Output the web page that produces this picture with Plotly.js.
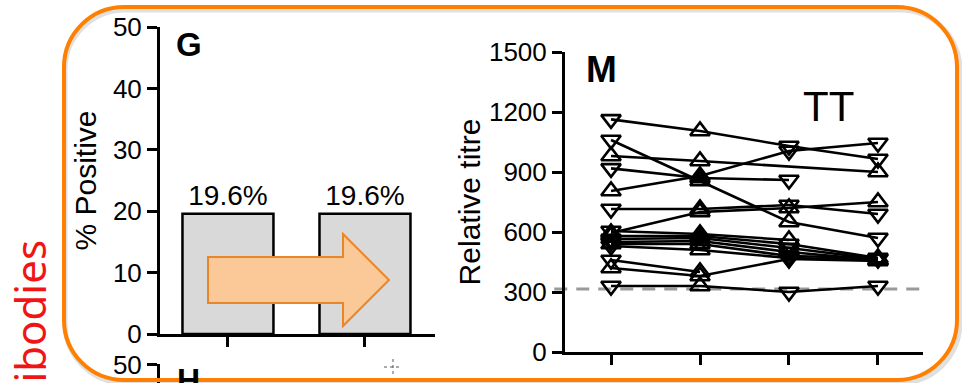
<!DOCTYPE html>
<html>
<head>
<meta charset="utf-8">
<script src="https://cdn.plot.ly/plotly-3.0.1.min.js"></script>
<style>
  html, body { margin: 0; padding: 0; background: #ffffff; }
  #chart { width: 962px; height: 383px; }
</style>
</head>
<body>
<div id="chart"></div>
<script>
// ---- Panel G: % positive before / after ----
const barGroups = [0, 1];
const percentPositive = [19.6, 19.6];
const percentLabels = ['19.6%', '19.6%'];

// ---- Panel M: relative TT titre per subject at four visits ----
const visits = [1, 2, 3, 4];
const titreS01 = [1163, 1105, 1030, 965];
const titreS02 = [1060, 855, 650, 570];
const titreS03 = [980, 955, null, 900];
const titreS04 = [918, 870, 860, null];
const titreS05 = [805, 880, 1005, 1045];
const titreS06 = [715, 715, 735, 690];
const titreS07 = [595, 700, 720, 750];
const titreS08 = [605, 590, 560, null];
const titreS09 = [580, 580, 540, 470];
const titreS10 = [565, 570, 520, 465];
const titreS11 = [550, 555, 500, 460];
const titreS12 = [540, 540, 480, 470];
const titreS13 = [530, 510, 470, 460];
const titreS14 = [460, 400, null, null];
const titreS15 = [420, 380, 465, 455];
const titreS16 = [330, 330, 300, 330];
const positivityCutoff = 315;

const subjects = [titreS01, titreS02, titreS03, titreS04, titreS05, titreS06, titreS07, titreS08,
                  titreS09, titreS10, titreS11, titreS12, titreS13, titreS14, titreS15, titreS16];

// marker symbol at each visit (D = down triangle, U = up triangle)
const symbolCodes = ['DUDD', 'DUUD', 'UUDU', 'DUDD', 'UUDD', 'DUDD', 'UUUU', 'DUUD',
                     'UUDU', 'DUDD', 'DUDU', 'UUDD', 'DUDU', 'DUDD', 'UUDU', 'DUDD'];

const W = 962, H = 383;
const fx = px => px / W;
const fy = py => 1 - py / H;
const font = 'Liberation Sans, Arial, Helvetica, sans-serif';

const traces = [];

traces.push({
  type: 'bar',
  x: barGroups,
  y: percentPositive,
  text: percentLabels,
  textposition: 'outside',
  textfont: { family: font, size: 28, color: '#000' },
  cliponaxis: false,
  width: 0.664,
  marker: { color: '#d9d9d9', line: { color: '#000', width: 2.5 } },
  xaxis: 'x', yaxis: 'y',
  hoverinfo: 'skip', showlegend: false
});

subjects.forEach((vals, i) => {
  const syms = symbolCodes[i].split('').map(c => c === 'U' ? 'triangle-up-open' : 'triangle-down-open');
  traces.push({
    type: 'scatter',
    mode: 'lines+markers',
    x: visits,
    y: vals,
    connectgaps: true,
    line: { color: '#000', width: 2.6 },
    marker: { symbol: syms, size: 17, color: '#000', line: { color: '#000', width: 2.6 } },
    xaxis: 'x2', yaxis: 'y2',
    cliponaxis: false,
    hoverinfo: 'skip', showlegend: false
  });
});

// fragment of the panel below (H), mostly cut off at the bottom edge
traces.push({
  type: 'scatter', mode: 'markers', x: [0], y: [null],
  xaxis: 'x3', yaxis: 'y3', showlegend: false, hoverinfo: 'skip'
});

const axisCommon = {
  showline: true, linecolor: '#000', linewidth: 3,
  ticks: 'outside', ticklen: 10, tickwidth: 3, tickcolor: '#000',
  showgrid: false, zeroline: false, fixedrange: true,
  tickfont: { family: font, size: 26, color: '#000' }
};

// rounded frame
function roundedRect(x0, y0, x1, y1, r) {
  const k = 0.5523 * r;
  const P = (x, y) => fx(x) + ',' + fy(y);
  return 'M' + P(x0 + r, y0) +
    ' L' + P(x1 - r, y0) +
    ' C' + P(x1 - r + k, y0) + ' ' + P(x1, y0 + r - k) + ' ' + P(x1, y0 + r) +
    ' L' + P(x1, y1 - r) +
    ' C' + P(x1, y1 - r + k) + ' ' + P(x1 - r + k, y1) + ' ' + P(x1 - r, y1) +
    ' L' + P(x0 + r, y1) +
    ' C' + P(x0 + r - k, y1) + ' ' + P(x0, y1 - r + k) + ' ' + P(x0, y1 - r) +
    ' L' + P(x0, y0 + r) +
    ' C' + P(x0, y0 + r - k) + ' ' + P(x0 + r - k, y0) + ' ' + P(x0 + r, y0) + ' Z';
}

function polygon(pts) {
  return 'M' + pts.map(p => fx(p[0]) + ',' + fy(p[1])).join(' L') + ' Z';
}

const arrowPts = [[208, 257], [343, 257], [343, 234], [389, 280], [343, 326], [343, 303], [208, 303]];

const shapes = [
  // cutoff line
  { type: 'line', xref: 'x2 domain', yref: 'y2', x0: -0.03, x1: 0.99,
    y0: positivityCutoff, y1: positivityCutoff,
    line: { color: '#9a9a9a', width: 3, dash: '13px,9px' }, layer: 'below' },
  // arrow
  { type: 'path', xref: 'paper', yref: 'paper', path: polygon(arrowPts),
    fillcolor: '#fbc898', line: { color: '#e8872a', width: 2 } },
  // small cursor mark
  { type: 'line', xref: 'paper', yref: 'paper', x0: fx(384), x1: fx(402), y0: fy(367), y1: fy(367),
    line: { color: '#555', width: 1, dash: '3px,3px' } },
  { type: 'line', xref: 'paper', yref: 'paper', x0: fx(393), x1: fx(393), y0: fy(359), y1: fy(377),
    line: { color: '#555', width: 1, dash: '3px,3px' } },
  // frame shadow + frame
  { type: 'path', xref: 'paper', yref: 'paper', path: roundedRect(65, 10, 960, 383, 60),
    line: { color: 'rgba(0,0,0,0.12)', width: 5 } },
  { type: 'path', xref: 'paper', yref: 'paper', path: roundedRect(64, 7, 957, 380, 60),
    line: { color: '#ff8000', width: 4 } }
];

const annotations = [
  { text: '<b>G</b>', xref: 'paper', yref: 'paper', x: fx(189), y: fy(44),
    xanchor: 'center', yanchor: 'middle', showarrow: false,
    font: { family: font, size: 33, color: '#000' } },
  { text: '<b>M</b>', xref: 'paper', yref: 'paper', x: fx(601), y: fy(69),
    xanchor: 'center', yanchor: 'middle', showarrow: false,
    font: { family: font, size: 37, color: '#000' } },
  { text: 'TT', xref: 'paper', yref: 'paper', x: fx(828), y: fy(106),
    xanchor: 'center', yanchor: 'middle', showarrow: false,
    font: { family: font, size: 42, color: '#000' } },
  { text: '<b>H</b>', xref: 'paper', yref: 'paper', x: fx(188), y: fy(360),
    xanchor: 'center', yanchor: 'top', showarrow: false,
    font: { family: font, size: 32, color: '#000' } },
  { text: 'Antibodies', xref: 'paper', yref: 'paper', x: fx(29), y: fy(238),
    xanchor: 'center', yanchor: 'top', textangle: -90, showarrow: false,
    font: { family: 'Noto Sans, sans-serif', size: 42, color: '#f01414' } }
];

const layout = {
  width: W, height: H,
  margin: { l: 0, r: 0, t: 0, b: 0 },
  paper_bgcolor: '#ffffff', plot_bgcolor: 'rgba(0,0,0,0)',
  showlegend: false,
  bargap: 0,
  xaxis: Object.assign({}, axisCommon, {
    domain: [fx(160), fx(435)], range: [-0.496, 1.511],
    tickvals: barGroups, showticklabels: false, anchor: 'y'
  }),
  yaxis: Object.assign({}, axisCommon, {
    domain: [fy(334), fy(27)], range: [0, 50], dtick: 10, anchor: 'x',
    title: { text: '% Positive', font: { family: font, size: 30, color: '#000' }, standoff: 8 }
  }),
  xaxis2: Object.assign({}, axisCommon, {
    domain: [fx(565), fx(923)], range: [0.483, 4.506],
    tickvals: visits, showticklabels: false, anchor: 'y2'
  }),
  yaxis2: Object.assign({}, axisCommon, {
    domain: [fy(352), fy(52)], range: [0, 1500], dtick: 300, anchor: 'x2',
    title: { text: 'Relative titre', font: { family: font, size: 30, color: '#000' }, standoff: 0 }
  }),
  xaxis3: Object.assign({}, axisCommon, {
    domain: [fx(160), fx(435)], range: [0, 1], showline: false, ticks: '',
    showticklabels: false, anchor: 'y3'
  }),
  yaxis3: Object.assign({}, axisCommon, {
    domain: [0, fy(364)], range: [46.9, 50.1], tickvals: [50], anchor: 'x3'
  }),
  shapes: shapes,
  annotations: annotations
};

Plotly.newPlot('chart', traces, layout, { displayModeBar: false, staticPlot: true });
</script>
</body>
</html>
